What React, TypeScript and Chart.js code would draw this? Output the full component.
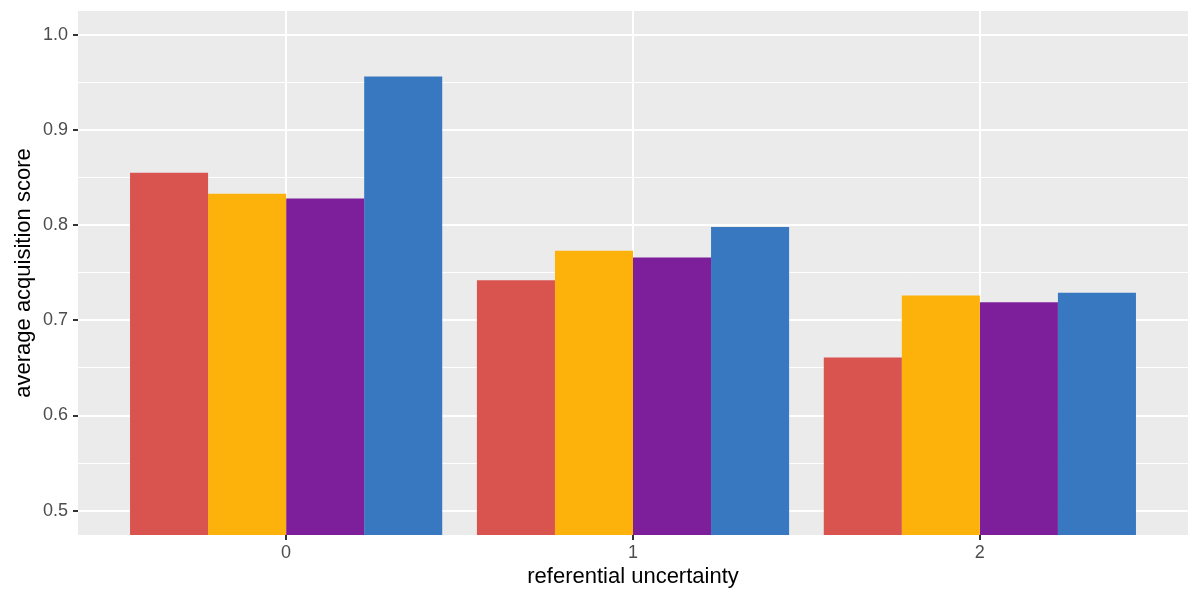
import { useEffect, useRef } from "react";
import { Chart, registerables } from "chart.js";

Chart.register(...registerables);

// Groups along the x axis (referential uncertainty levels)
const categories = [0, 1, 2];
const xTickLabels = ["0", "1", "2"];

// Average acquisition score per group, one array per learner condition
const seriesNames = ["condition 1", "condition 2", "condition 3", "condition 4"];
const redScores = [0.855, 0.742, 0.661];
const orangeScores = [0.833, 0.773, 0.726];
const purpleScores = [0.828, 0.766, 0.719];
const blueScores = [0.956, 0.798, 0.729];
const seriesColors = ["#D9534F", "#FDB20B", "#7D1F9B", "#3878C1"];

// Y axis ticks: labelled major lines and unlabelled minor lines
const yMajorTicks = [0.5, 0.6, 0.7, 0.8, 0.9, 1.0];
const yMinorTicks = [0.55, 0.65, 0.75, 0.85, 0.95];
const yMin = 0.4745;
const yMax = 1.0249;
const xMin = -0.6;
const xMax = 2.6;

const FONT = "'Liberation Sans', Arial, Helvetica, sans-serif";

const isMajor = (v: number) => yMajorTicks.some((m) => Math.abs(m - v) < 1e-9);

const panelBackground = {
  id: "panelBackground",
  beforeDraw(chart: any) {
    const { ctx, chartArea: a } = chart;
    ctx.save();
    ctx.fillStyle = "#EBEBEB";
    ctx.fillRect(a.left, a.top, a.right - a.left, a.bottom - a.top);
    ctx.restore();
  },
};

export default function App() {
  const canvasRef = useRef<HTMLCanvasElement>(null);

  useEffect(() => {
    document.body.style.margin = "0";
    const canvas = canvasRef.current;
    if (!canvas) return;

    const allSeries = [redScores, orangeScores, purpleScores, blueScores];

    const chart = new Chart(canvas, {
      type: "bar",
      data: {
        datasets: allSeries.map((values, si) => ({
          label: seriesNames[si],
          data: categories.map((c, i) => ({ x: c, y: values[i] })),
          backgroundColor: seriesColors[si],
          borderWidth: 0,
          categoryPercentage: 0.9,
          barPercentage: 1,
        })),
      },
      options: {
        animation: false,
        responsive: false,
        maintainAspectRatio: false,
        layout: { padding: { top: 11, right: 12, left: 0, bottom: 0 } },
        plugins: {
          legend: { display: false },
          tooltip: { enabled: false },
        },
        scales: {
          x: {
            type: "linear",
            min: xMin,
            max: xMax,
            offset: false,
            afterBuildTicks: (scale: any) => {
              scale.ticks = categories.map((v) => ({ value: v }));
            },
            afterFit: (scale: any) => {
              scale.height = 65;
              scale.paddingLeft = 0;
              scale.paddingRight = 0;
            },
            border: { display: false },
            grid: {
              offset: false,
              color: "#FFFFFF",
              lineWidth: 2,
              drawTicks: true,
              tickLength: 5,
              tickWidth: 2,
              tickColor: "#333333",
            },
            ticks: {
              autoSkip: false,
              maxRotation: 0,
              padding: 2,
              color: "#4D4D4D",
              font: { family: FONT, size: 18 },
              callback: (v: any) => {
                const idx = categories.indexOf(Number(v));
                return idx >= 0 ? xTickLabels[idx] : "";
              },
            },
            title: {
              display: true,
              text: "referential uncertainty",
              color: "#000000",
              font: { family: FONT, size: 22 },
              padding: { top: 0, bottom: 10 },
            },
          },
          y: {
            type: "linear",
            min: yMin,
            max: yMax,
            afterBuildTicks: (scale: any) => {
              scale.ticks = [...yMajorTicks, ...yMinorTicks]
                .sort((a, b) => a - b)
                .map((v) => ({ value: v }));
            },
            afterFit: (scale: any) => {
              scale.width = 78;
              scale.paddingTop = 0;
              scale.paddingBottom = 0;
            },
            border: { display: false },
            grid: {
              color: "#FFFFFF",
              lineWidth: (ctx: any) => (isMajor(ctx.tick.value) ? 2 : 1),
              drawTicks: true,
              tickLength: 5,
              tickWidth: 2,
              tickColor: (ctx: any) =>
                isMajor(ctx.tick.value) ? "#333333" : "rgba(0,0,0,0)",
            },
            ticks: {
              autoSkip: false,
              padding: 5,
              color: "#4D4D4D",
              font: { family: FONT, size: 18 },
              callback: (v: any) => (isMajor(Number(v)) ? Number(v).toFixed(1) : ""),
            },
            title: {
              display: true,
              text: "average acquisition score",
              color: "#000000",
              font: { family: FONT, size: 22 },
              padding: { top: 11, bottom: 0 },
            },
          },
        },
      } as any,
      plugins: [panelBackground],
    });

    return () => chart.destroy();
  }, []);

  return (
    <div style={{ width: 1200, height: 600 }}>
      <canvas
        ref={canvasRef}
        width={1200}
        height={600}
        style={{ display: "block", width: 1200, height: 600 }}
      />
    </div>
  );
}
